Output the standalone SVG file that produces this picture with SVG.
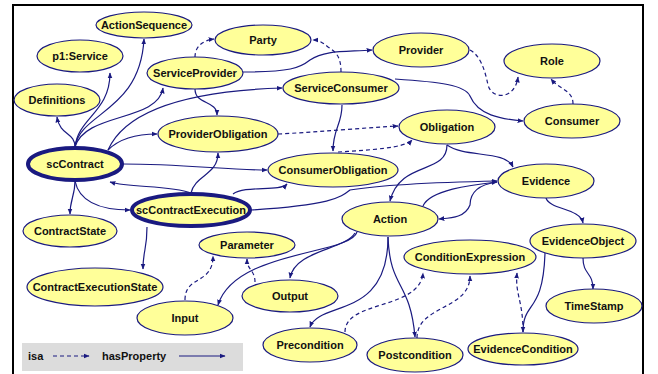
<svg xmlns="http://www.w3.org/2000/svg" width="658" height="374" viewBox="0 0 658 374">
<style>
.n ellipse{fill:#ffff99;stroke:#1a1a80;stroke-width:1.2}
.n.k ellipse{stroke-width:4}
.n text{font-family:"Liberation Sans",Arial,sans-serif;font-weight:bold;font-size:11px;fill:#111;text-anchor:middle}
.e path{fill:none;stroke:#1a1a80;stroke-width:1.2;marker-end:url(#a)}
.e path.d{stroke-dasharray:4,3}
.lg{font-family:"Liberation Sans",Arial,sans-serif;font-weight:bold;font-size:11px;fill:#111}
</style>
<defs>
<marker id="a" viewBox="0 0 10 10" refX="9" refY="5" markerWidth="6" markerHeight="6" markerUnits="userSpaceOnUse" orient="auto">
<path d="M0,1 L10,5 L0,9 Z" fill="#1a1a80"/>
</marker>
</defs>
<rect width="658" height="374" fill="#fff"/>
<path d="M13,380 V5 H643 V380" fill="none" stroke="#000" stroke-width="2"/>

<g id="connectors" class="e">
<path d="M75,147 C75,132 60,136 57,117"/>
<path d="M75,147 C78,118 110,112 110,73"/>
<path d="M75,147 C80,112 140,112 144,39"/>
<path d="M75,147 C85,112 158,122 163,88"/>
<path d="M108,150 C130,100 220,90 282,88"/>
<path d="M108,150 C120,138 140,134 157,134"/>
<path d="M123,164 C180,164 230,170 267,170"/>
<path d="M75,181 C75,195 70,200 70,214"/>
<path d="M75,181 C80,205 105,210 130,210"/>
<path d="M191,193 C170,185 130,188 110,182"/>
<path d="M191,193 C195,175 218,175 218,153"/>
<path d="M233,194 C245,185 280,192 287,184"/>
<path d="M147,227 C147,250 143,250 143,269"/>
<path d="M251,210 C330,205 340,198 350,190 C380,185 450,182 497,181"/>
<path d="M195,89 C195,105 217,100 217,115"/>
<path class="d" d="M195,57 C195,45 205,40 214,39"/>
<path d="M243,72 C290,72 300,68 310,60 C325,50 345,52 372,50"/>
<path class="d" d="M341,72 C341,55 335,52 328,47 C322,42 318,40 313,40"/>
<path d="M395,79 C440,82 465,85 470,96 C478,115 500,119 523,121"/>
<path class="d" d="M470,50 C480,55 485,70 488,85 C492,100 515,100 518,77"/>
<path class="d" d="M573,104 C573,90 560,90 551,79"/>
<path d="M342,105 C342,125 333,128 333,151"/>
<path class="d" d="M278,134 C320,132 360,128 398,126"/>
<path class="d" d="M338,152 C370,150 405,148 412,140"/>
<path d="M447,145 C447,175 400,160 390,201"/>
<path d="M447,145 C465,158 505,150 513,167"/>
<path d="M423,206 C430,190 470,185 497,182"/>
<path d="M497,182 C475,185 470,195 470,205 C465,218 450,218 439,219"/>
<path d="M546,198 C550,210 580,208 583,223"/>
<path d="M583,258 C583,275 593,272 593,289"/>
<path d="M545,253 C543,315 523,300 523,332"/>
<path class="d" d="M523,332 C523,300 515,295 517,273"/>
<path d="M355,233 C345,250 295,250 290,278"/>
<path d="M357,232 C350,255 235,250 218,305"/>
<path d="M388,237 C388,320 320,300 310,327"/>
<path d="M388,237 C390,290 410,280 415,337"/>
<path class="d" d="M185,300 C185,275 213,285 213,256"/>
<path class="d" d="M255,282 C255,270 247,270 247,259"/>
<path class="d" d="M345,332 C345,300 420,310 423,273"/>
<path class="d" d="M417,338 C417,305 470,310 470,276"/>
</g>

<g id="ActionSequence" class="n"><ellipse cx="144" cy="25" rx="48" ry="13"/><text x="144" y="29">ActionSequence</text></g>
<g id="p1Service" class="n"><ellipse cx="80" cy="56" rx="43" ry="16"/><text x="80" y="60">p1:Service</text></g>
<g id="Party" class="n"><ellipse cx="263" cy="40" rx="48" ry="15"/><text x="263" y="44">Party</text></g>
<g id="ServiceProvider" class="n"><ellipse cx="195" cy="73" rx="48" ry="16"/><text x="195" y="77">ServiceProvider</text></g>
<g id="Definitions" class="n"><ellipse cx="57" cy="100" rx="43" ry="16"/><text x="57" y="104">Definitions</text></g>
<g id="ProviderObligation" class="n"><ellipse cx="218" cy="134" rx="60" ry="18"/><text x="218" y="138">ProviderObligation</text></g>
<g id="scContract" class="n k"><ellipse cx="75" cy="164" rx="47" ry="16"/><text x="75" y="168">scContract</text></g>
<g id="ServiceConsumer" class="n"><ellipse cx="341" cy="88" rx="58" ry="16"/><text x="341" y="92">ServiceConsumer</text></g>
<g id="Provider" class="n"><ellipse cx="421" cy="50" rx="48" ry="17"/><text x="421" y="54">Provider</text></g>
<g id="Role" class="n"><ellipse cx="552" cy="61" rx="48" ry="17"/><text x="552" y="65">Role</text></g>
<g id="Consumer" class="n"><ellipse cx="572" cy="121" rx="48" ry="17"/><text x="572" y="125">Consumer</text></g>
<g id="Obligation" class="n"><ellipse cx="447" cy="127" rx="48" ry="17"/><text x="447" y="131">Obligation</text></g>
<g id="ConsumerObligation" class="n"><ellipse cx="333" cy="170" rx="65" ry="17"/><text x="333" y="174">ConsumerObligation</text></g>
<g id="Evidence" class="n"><ellipse cx="546" cy="181" rx="48" ry="17"/><text x="546" y="185">Evidence</text></g>
<g id="scContractExecution" class="n k"><ellipse cx="191" cy="210" rx="59" ry="16"/><text x="191" y="214">scContractExecution</text></g>
<g id="Action" class="n"><ellipse cx="390" cy="219" rx="48" ry="17"/><text x="390" y="223">Action</text></g>
<g id="ContractState" class="n"><ellipse cx="70" cy="231" rx="47" ry="16"/><text x="70" y="235">ContractState</text></g>
<g id="Parameter" class="n"><ellipse cx="247" cy="245" rx="48" ry="13"/><text x="247" y="249">Parameter</text></g>
<g id="ContractExecutionState" class="n"><ellipse cx="95" cy="287" rx="68" ry="19"/><text x="95" y="291">ContractExecutionState</text></g>
<g id="Output" class="n"><ellipse cx="290" cy="296" rx="48" ry="16"/><text x="290" y="300">Output</text></g>
<g id="Input" class="n"><ellipse cx="185" cy="318" rx="48" ry="17"/><text x="185" y="322">Input</text></g>
<g id="Precondition" class="n"><ellipse cx="310" cy="345" rx="47" ry="17"/><text x="310" y="349">Precondition</text></g>
<g id="Postcondition" class="n"><ellipse cx="415" cy="355" rx="48" ry="17"/><text x="415" y="359">Postcondition</text></g>
<g id="ConditionExpression" class="n"><ellipse cx="470" cy="257" rx="66" ry="17"/><text x="470" y="261">ConditionExpression</text></g>
<g id="EvidenceObject" class="n"><ellipse cx="583" cy="241" rx="53" ry="17"/><text x="583" y="245">EvidenceObject</text></g>
<g id="TimeStamp" class="n"><ellipse cx="594" cy="306" rx="48" ry="17"/><text x="594" y="310">TimeStamp</text></g>
<g id="EvidenceCondition" class="n"><ellipse cx="523" cy="349" rx="55" ry="16"/><text x="523" y="353">EvidenceCondition</text></g>

<g id="legend">
<rect x="22" y="343" width="221" height="28" fill="#dcdcdc"/>
<text class="lg" x="28" y="360">isa</text>
<g class="e"><path class="d" d="M53,356 H89"/><path d="M179,356 H225"/></g>
<text class="lg" x="102" y="360">hasProperty</text>
</g>
</svg>
